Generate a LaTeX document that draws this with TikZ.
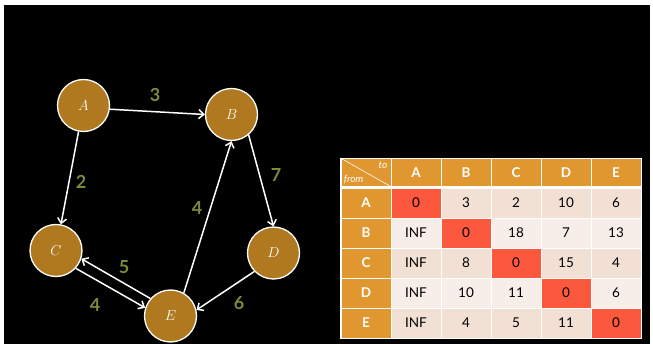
\documentclass[tikz,border=0pt]{standalone}
\usepackage{fontspec}
\setsansfont{Lato}
\usepackage{tikz}
\usetikzlibrary{positioning, arrows.meta}

\definecolor{nodebrown}{RGB}{176,121,32}
\definecolor{weightgreen}{RGB}{122,140,56}
\definecolor{headorange}{RGB}{224,151,48}
\definecolor{diagred}{RGB}{252,88,62}
\definecolor{rowdark}{RGB}{242,224,212}
\definecolor{rowlight}{RGB}{248,238,233}

\begin{document}
\begin{tikzpicture}[
    x=1pt, y=-1pt,
    vertex/.style={circle, draw=white, line width=1.3pt, fill=nodebrown, minimum size=52pt, inner sep=0pt, text=white, font=\fontsize{15}{17}\selectfont},
    edge/.style={-{Straight Barb[length=5pt,width=9pt]}, draw=white, line width=1.5pt},
    weight/.style={text=weightgreen, font=\sffamily\bfseries\fontsize{18}{20}\selectfont},
    cell/.style={rectangle, draw=white, line width=0.8pt, minimum width=50pt, minimum height=30pt, inner sep=0pt, font=\sffamily\fontsize{13.5}{15}\selectfont, text=black},
    head/.style={cell, fill=headorange, text=white, font=\sffamily\bfseries\fontsize{13.5}{15}\selectfont}
]

% Background
\fill[white] (0,0) rectangle (653,344);
\fill[black] (4,5) rectangle (650,344);

% Vertices
\node[vertex] (A) at (83.5,105.5) {$A$};
\node[vertex] (B) at (231.5,114.5) {$B$};
\node[vertex] (C) at (56,250.5) {$C$};
\node[vertex] (D) at (273.5,253) {$D$};
\node[vertex] (E) at (170.5,316) {$E$};

% Edges
\draw[edge] (A.-8) -- (B.west);
\draw[edge] (A) -- (C);
\draw[edge] (B.-50) -- (D.north);
\draw[edge] (E.60) -- (B.south);
\draw[edge] (D.-136) -- (E.13);
\draw[edge] (C.-42) -- (E.162);
\draw[edge] (E.139) -- (C.-18);

% Weights
\node[weight] (w-ab) at (155,95) {3};
\node[weight] (w-ac) at (81,182) {2};
\node[weight] (w-bd) at (276,175) {7};
\node[weight] (w-eb) at (197,208) {4};
\node[weight] (w-ec) at (124,267) {5};
\node[weight] (w-ce) at (95,305) {4};
\node[weight] (w-de) at (239,303) {6};

% Table header
\node[head, minimum height=28pt] (corner) at (366,172.5) {};
\draw[white, line width=0.6pt] (corner.north west) -- (corner.south east);
\node[anchor=north east, inner sep=0pt, text=white, font=\sffamily\itshape\fontsize{10}{11}\selectfont] (to) at ([xshift=-4pt,yshift=-3pt]corner.north east) {to};
\node[anchor=south west, inner sep=0pt, text=white, font=\sffamily\itshape\fontsize{10}{11}\selectfont] (from) at ([xshift=3pt,yshift=3pt]corner.south west) {from};

\foreach \r [count=\i] in {A,B,C,D,E} {
    \node[head, minimum height=28pt] (h-\r) at ({416+50*(\i-1)},172.5) {\r};
    \node[head] (r-\r) at (366,{203+30*(\i-1)}) {\r};
}

% Table body
\foreach \r/\vals [count=\i] in {A/{0,3,2,10,6}, B/{INF,0,18,7,13}, C/{INF,8,0,15,4}, D/{INF,10,11,0,6}, E/{INF,4,5,11,0}} {
    \foreach \v [count=\j] in \vals {
        \ifnum\i=\j \def\cellfill{diagred}\else\ifodd\i \def\cellfill{rowdark}\else\def\cellfill{rowlight}\fi\fi
        \node[cell, fill=\cellfill] (c-\r-\j) at ({416+50*(\j-1)},{203+30*(\i-1)}) {\v};
    }
}

\draw[white, line width=2pt] ([yshift=-1pt]corner.south west) -- ([yshift=-1pt]h-E.south east);
\draw[white, line width=1pt] (corner.north west) rectangle (c-E-5.south east);

\end{tikzpicture}
\end{document}
